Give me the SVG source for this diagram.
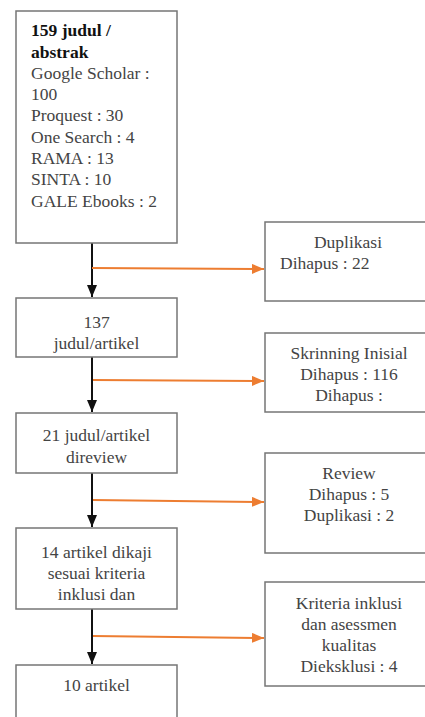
<svg xmlns="http://www.w3.org/2000/svg" width="425" height="717" viewBox="0 0 425 717">
<style>
.box{fill:#fff;stroke:#767676;stroke-width:1.5}
text{font-family:"Liberation Serif","Times New Roman",serif;font-size:17.5px;fill:#444}
.c{text-anchor:middle}
.b{font-weight:bold;fill:#111}
.k{stroke:#111;stroke-width:2;fill:none}
.o{stroke:#ED7D31;stroke-width:2;fill:none}
</style>
<defs>
<marker id="bh" viewBox="0 0 12 10" refX="12" refY="5" markerWidth="12" markerHeight="10" orient="auto" markerUnits="userSpaceOnUse"><path d="M0,0 L12,5 L0,10 z" fill="#111"/></marker>
<marker id="oh" viewBox="0 0 12 10" refX="12" refY="5" markerWidth="12" markerHeight="10" orient="auto" markerUnits="userSpaceOnUse"><path d="M0,0 L12,5 L0,10 z" fill="#ED7D31"/></marker>
</defs>
<g id="connectors">
<line class="k" x1="92" y1="243" x2="92" y2="297" marker-end="url(#bh)"/>
<line class="k" x1="92" y1="357" x2="92" y2="412" marker-end="url(#bh)"/>
<line class="k" x1="92" y1="473" x2="92" y2="527" marker-end="url(#bh)"/>
<line class="k" x1="92" y1="609" x2="92" y2="664" marker-end="url(#bh)"/>
<line class="o" x1="92" y1="268" x2="264" y2="269" marker-end="url(#oh)"/>
<line class="o" x1="93" y1="380" x2="264" y2="381" marker-end="url(#oh)"/>
<line class="o" x1="93" y1="500" x2="264" y2="502" marker-end="url(#oh)"/>
<line class="o" x1="93" y1="636" x2="264" y2="638" marker-end="url(#oh)"/>
</g>
<g id="n1">
<rect class="box" x="16" y="11" width="161" height="232"/>
<text x="31" y="36" class="b">159 judul /</text>
<text x="31" y="58" class="b">abstrak</text>
<text x="31" y="79">Google Scholar :</text>
<text x="31" y="100">100</text>
<text x="31" y="121">Proquest : 30</text>
<text x="31" y="143">One Search : 4</text>
<text x="31" y="164">RAMA : 13</text>
<text x="31" y="185">SINTA : 10</text>
<text x="31" y="207">GALE Ebooks : 2</text>
</g>
<g id="n2">
<rect class="box" x="16" y="298" width="161" height="59"/>
<text x="96.5" y="328" class="c">137</text>
<text x="96.5" y="349" class="c">judul/artikel</text>
</g>
<g id="n3">
<rect class="box" x="16" y="413" width="161" height="60"/>
<text x="96.5" y="441" class="c">21 judul/artikel</text>
<text x="96.5" y="463" class="c">direview</text>
</g>
<g id="n4">
<rect class="box" x="16" y="528" width="161" height="81"/>
<text x="96.5" y="558" class="c">14 artikel dikaji</text>
<text x="96.5" y="579" class="c">sesuai kriteria</text>
<text x="96.5" y="600" class="c">inklusi dan</text>
</g>
<g id="n5">
<rect class="box" x="16" y="665" width="161" height="70"/>
<text x="96.5" y="691" class="c">10 artikel</text>
</g>
<g id="r1">
<rect class="box" x="265" y="222" width="170" height="79"/>
<text x="348" y="248" class="c">Duplikasi</text>
<text x="280" y="269">Dihapus : 22</text>
</g>
<g id="r2">
<rect class="box" x="265" y="333" width="170" height="79"/>
<text x="349" y="359" class="c">Skrinning Inisial</text>
<text x="349" y="380" class="c">Dihapus : 116</text>
<text x="349" y="401" class="c">Dihapus :</text>
</g>
<g id="r3">
<rect class="box" x="265" y="453" width="170" height="100"/>
<text x="349" y="479" class="c">Review</text>
<text x="349" y="500" class="c">Dihapus : 5</text>
<text x="349" y="521" class="c">Duplikasi : 2</text>
</g>
<g id="r4">
<rect class="box" x="265" y="582" width="170" height="104"/>
<text x="349" y="609" class="c">Kriteria inklusi</text>
<text x="349" y="630" class="c">dan asessmen</text>
<text x="349" y="651" class="c">kualitas</text>
<text x="349" y="672" class="c">Dieksklusi : 4</text>
</g>
</svg>
